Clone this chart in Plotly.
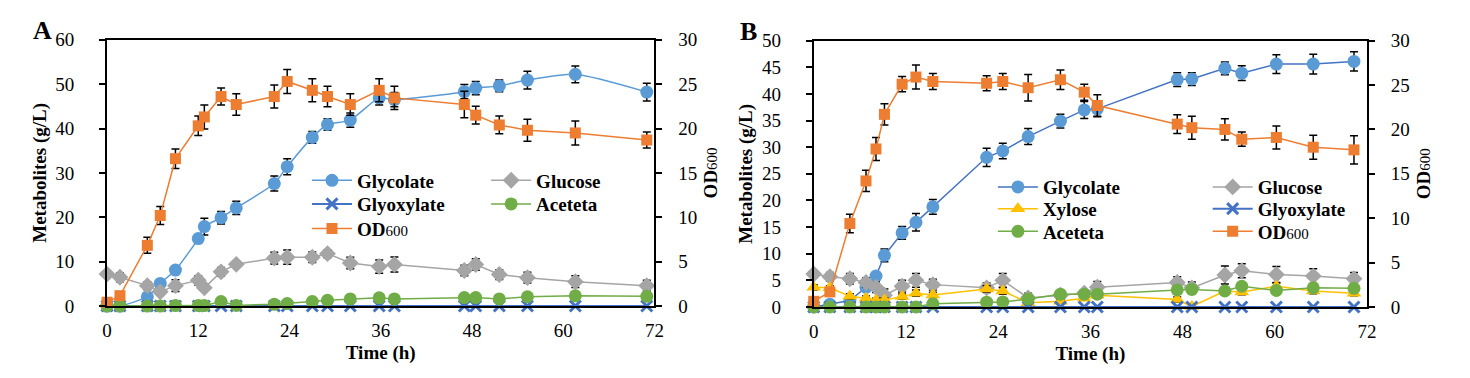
import plotly.graph_objects as go

# ---------------- Panel A data ----------------
tA = [0, 1.7, 5.3, 7, 9, 12, 12.8, 15, 17, 22, 23.7, 27, 29, 32, 35.8, 37.8, 47, 48.5, 51.6, 55.3, 61.6, 71]
glycolate_A = [0, 0, 2.1, 5.1, 8.1, 15.2, 17.9, 19.9, 22.1, 27.6, 31.4, 38.0, 40.9, 41.9, 46.9, 46.5, 48.3, 49.1, 49.6, 50.9, 52.2, 48.2]
glycolate_A_err = [0, 0, 0.3, 0.4, 0.4, 0.6, 1.9, 1.4, 1.5, 1.7, 1.8, 1.35, 1.3, 1.6, 1.6, 1.6, 1.6, 1.5, 1.3, 2.0, 1.9, 2.0]
glucose_A = [7.2, 6.5, 4.6, 3.2, 4.6, 5.8, 4.1, 7.7, 9.4, 10.8, 11.0, 11.0, 11.8, 9.7, 8.9, 9.35, 8.0, 9.35, 7.1, 6.4, 5.5, 4.6]
glucose_A_err = [0.3, 1.0, 0.9, 0.3, 1.3, 1.05, 0.5, 1.0, 0.3, 1.3, 1.6, 1.2, 0.9, 1.3, 1.5, 1.7, 1.2, 1.3, 1.1, 1.2, 1.3, 1.2]
glyoxylate_A = [0] * 22
aceteta_A = [0, 0, 0, 0, 0.1, 0.1, 0.1, 1.0, 0.15, 0.4, 0.55, 1.0, 1.3, 1.6, 1.85, 1.6, 1.9, 1.9, 1.6, 2.1, 2.3, 2.2]
od_A = [0.43, 1.17, 6.84, 10.2, 16.6, 20.3, 21.3, 23.6, 22.7, 23.6, 25.3, 24.3, 23.6, 22.7, 24.3, 23.45, 22.7, 21.5, 20.4, 19.8, 19.5, 18.7]
od_A_err = [0, 0, 0.9, 1.0, 1.1, 1.1, 1.35, 0.95, 1.2, 1.3, 1.35, 1.3, 1.15, 1.2, 1.3, 1.3, 1.5, 1.0, 1.0, 1.25, 1.35, 0.9]

# ---------------- Panel B data ----------------
tB = [0, 2.1, 4.7, 6.8, 8.1, 9.2, 11.5, 13.3, 15.5, 22.5, 24.6, 27.9, 32.1, 35.2, 36.9, 47.3, 49.2, 53.5, 55.7, 60.2, 65.0, 70.3]
glycolate_B = [0, 0.5, 1.2, 3.7, 5.8, 9.7, 13.9, 15.9, 18.8, 28.1, 29.3, 32.0, 34.9, 37.0, 37.2, 42.7, 42.8, 44.8, 43.9, 45.6, 45.6, 46.1]
glycolate_B_err = [0, 0, 0, 0.4, 0.5, 1.2, 1.2, 1.65, 1.4, 1.7, 1.45, 1.5, 1.3, 1.6, 1.5, 1.3, 1.2, 1.2, 1.4, 1.75, 1.85, 1.8]
glucose_B = [6.2, 5.7, 5.3, 4.6, 3.7, 2.2, 3.9, 5.0, 4.2, 3.6, 5.0, 1.7, 2.2, 2.6, 3.7, 4.6, 3.6, 6.0, 6.8, 6.1, 5.8, 5.3]
glucose_B_err = [0.5, 0.8, 1.0, 0.9, 1.0, 1.2, 1.1, 1.3, 1.0, 0.9, 1.3, 0.9, 0.5, 0.6, 1.1, 1.1, 1.1, 1.7, 1.3, 1.5, 1.4, 1.2]
xylose_B = [3.7, 3.6, 2.0, 1.65, 1.25, 1.3, 1.95, 2.6, 2.25, 3.4, 3.0, 0.8, 1.1, 1.65, 2.2, 1.4, 0.1, 3.0, 2.8, 3.9, 3.0, 2.6]
xylose_B_err = [0.5, 0.4, 0.5, 0.4, 0.4, 0.4, 0.5, 0.6, 0.5, 0.6, 0.6, 0.3, 0.3, 0.4, 0.4, 0.5, 0.3, 0.6, 0.5, 0.6, 0.5, 0.5]
glyoxylate_B = [0] * 22
aceteta_B = [0, 0, 0, 0, 0, 0, 0, 0, 0.6, 0.9, 0.95, 1.5, 2.4, 2.4, 2.4, 3.2, 3.3, 3.0, 3.9, 3.1, 3.6, 3.5]
od_B = [0.64, 1.7, 9.4, 14.2, 17.8, 21.7, 25.1, 25.9, 25.4, 25.2, 25.4, 24.7, 25.6, 24.2, 22.7, 20.6, 20.2, 20.0, 18.9, 19.1, 18.0, 17.7]
od_B_err = [0, 0.3, 1.05, 1.2, 1.3, 1.2, 0.85, 1.35, 0.9, 0.85, 0.9, 1.5, 1.1, 0.9, 1.2, 1.05, 1.3, 1.2, 0.8, 1.3, 1.35, 1.6]

x_ticks = [0, 12, 24, 36, 48, 60, 72]

# ---------------- Styling ----------------
W, H = 1470, 378
FONT = "Liberation Serif, Times New Roman, serif"
C_GLYCOLATE = "#5B9BD5"
C_GLUCOSE = "#A5A5A5"
C_GLYOX = "#4472C4"
C_ACET = "#70AD47"
C_OD = "#ED7D31"
C_XYL = "#FFC000"
OD_LABEL = "<b>OD</b><span style='font-size:15px;font-weight:normal'>600</span>"


def px_x(p):
    return p / W


def px_y(p):
    return 1 - p / H


def err(vals):
    return dict(type="data", array=vals, visible=True, color="black", thickness=1.5, width=4)


def trace(x, y, name, color, symbol, size, xaxis, yaxis, legend, e=None, shape="linear", lw=1.5, mcolor=None):
    mc = mcolor or color
    marker = dict(color=mc, symbol=symbol, size=size, line=dict(width=0))
    if symbol == "x-thin":
        marker = dict(color=mc, symbol=symbol, size=size, line=dict(width=3, color=mc))
    return go.Scatter(
        x=x, y=y, name=name, mode="lines+markers", showlegend=True,
        line=dict(color=color, width=lw, shape=shape, smoothing=0.6 if shape == "spline" else None),
        marker=marker, error_y=err(e) if e is not None else None,
        xaxis=xaxis, yaxis=yaxis, legend=legend, cliponaxis=False,
    )


fig = go.Figure()
# Panel A
fig.add_trace(trace(tA, glycolate_A, "Glycolate", C_GLYCOLATE, "circle", 13, "x", "y", "legend", glycolate_A_err, shape="spline"))
fig.add_trace(trace(tA, glucose_A, "Glucose", C_GLUCOSE, "diamond", 13, "x", "y", "legend2", glucose_A_err))
fig.add_trace(trace(tA, glyoxylate_A, "Glyoxylate", C_GLYOX, "x-thin", 11, "x", "y", "legend3", lw=2))
fig.add_trace(trace(tA, aceteta_A, "Aceteta", C_ACET, "circle", 13, "x", "y", "legend4"))
fig.add_trace(trace(tA, od_A, OD_LABEL, C_OD, "square", 11, "x", "y2", "legend5", od_A_err))
# Panel B
fig.add_trace(trace(tB, glycolate_B, "Glycolate", C_GLYOX, "circle", 13, "x2", "y3", "legend6", glycolate_B_err, mcolor=C_GLYCOLATE))
fig.add_trace(trace(tB, glucose_B, "Glucose", C_GLUCOSE, "diamond", 13, "x2", "y3", "legend7", glucose_B_err))
fig.add_trace(trace(tB, xylose_B, "Xylose", C_XYL, "triangle-up", 13, "x2", "y3", "legend8", xylose_B_err))
fig.add_trace(trace(tB, glyoxylate_B, "Glyoxylate", C_GLYOX, "x-thin", 11, "x2", "y3", "legend9", lw=2))
fig.add_trace(trace(tB, aceteta_B, "Aceteta", C_ACET, "circle", 13, "x2", "y3", "legend10"))
fig.add_trace(trace(tB, od_B, OD_LABEL, C_OD, "square", 11, "x2", "y4", "legend11", od_B_err))

tickfont = dict(family=FONT, size=19, color="black")
titlefont = dict(family=FONT, size=19, color="black", weight="bold")

yd = [px_y(305), px_y(23)]
ydB = [px_y(306), px_y(24)]


def xax(domain, anchor):
    return dict(domain=domain, anchor=anchor, range=[0, 72], tickvals=x_ticks, showline=True,
                linecolor="black", linewidth=2, mirror=True, ticks="", showgrid=False, zeroline=False,
                tickfont=tickfont, ticklabelstandoff=6,
                title=dict(text="<b>Time (h)</b>", font=titlefont, standoff=6))


def yax(domain, anchor, rng, dtick, title, side="left", overlaying=None):
    d = dict(domain=domain, anchor=anchor, range=rng, dtick=dtick, showline=True, linecolor="black",
             linewidth=2, ticks="outside", ticklen=6, tickwidth=1.5, tickcolor="black", showgrid=False,
             zeroline=False, tickfont=tickfont, side=side, ticklabelstandoff=21 if side == "left" else 12,
             title=dict(text=title, font=titlefont, standoff=4 if side == "left" else 8))
    if overlaying:
        d["overlaying"] = overlaying
    return d


fig.update_layout(
    width=W, height=H, margin=dict(l=0, r=0, t=0, b=0), showlegend=True,
    paper_bgcolor="white", plot_bgcolor="white",
    font=dict(family=FONT, color="black"),
    xaxis=xax([px_x(95), px_x(648)], "y"),
    yaxis=yax(yd, "x", [0, 60], 10, "<b>Metabolites (g/L)</b>"),
    yaxis2=yax(yd, "x", [0, 30], 5, OD_LABEL, side="right", overlaying="y"),
    xaxis2=xax([px_x(809), px_x(1368)], "y3"),
    yaxis3=yax(ydB, "x2", [0, 50], 5, "<b>Metabolites (g/L)</b>"),
    yaxis4=yax(ydB, "x2", [0, 30], 5, OD_LABEL, side="right", overlaying="y3"),
)

legfont = dict(family=FONT, size=19, color="black", weight="bold")
common_leg = dict(font=legfont, bgcolor="rgba(0,0,0,0)", xanchor="left", yanchor="middle",
                  xref="paper", yref="paper", itemwidth=40, visible=True)
TXT_OFF = 50
Y_OFF = -7
# (legend key, text-left x px, row centre y px)
leg_pos = [
    ("legend", 347, 179), ("legend3", 347, 204), ("legend5", 347, 230),
    ("legend2", 528, 179), ("legend4", 528, 204),
    ("legend6", 1040, 186), ("legend8", 1040, 209), ("legend10", 1040, 233),
    ("legend7", 1257, 186), ("legend9", 1257, 209), ("legend11", 1257, 233),
]
fig.update_layout({k: dict(x=px_x(xp - TXT_OFF), y=px_y(yp + Y_OFF), **common_leg) for k, xp, yp in leg_pos})

fig.add_annotation(x=px_x(30), y=px_y(13), xref="paper", yref="paper", text="<b>A</b>", showarrow=False,
                   font=dict(family=FONT, size=26, color="black"), xanchor="center", yanchor="middle")
fig.add_annotation(x=px_x(743), y=px_y(14), xref="paper", yref="paper", text="<b>B</b>", showarrow=False,
                   font=dict(family=FONT, size=26, color="black"), xanchor="center", yanchor="middle")

fig.write_html("out.html")
